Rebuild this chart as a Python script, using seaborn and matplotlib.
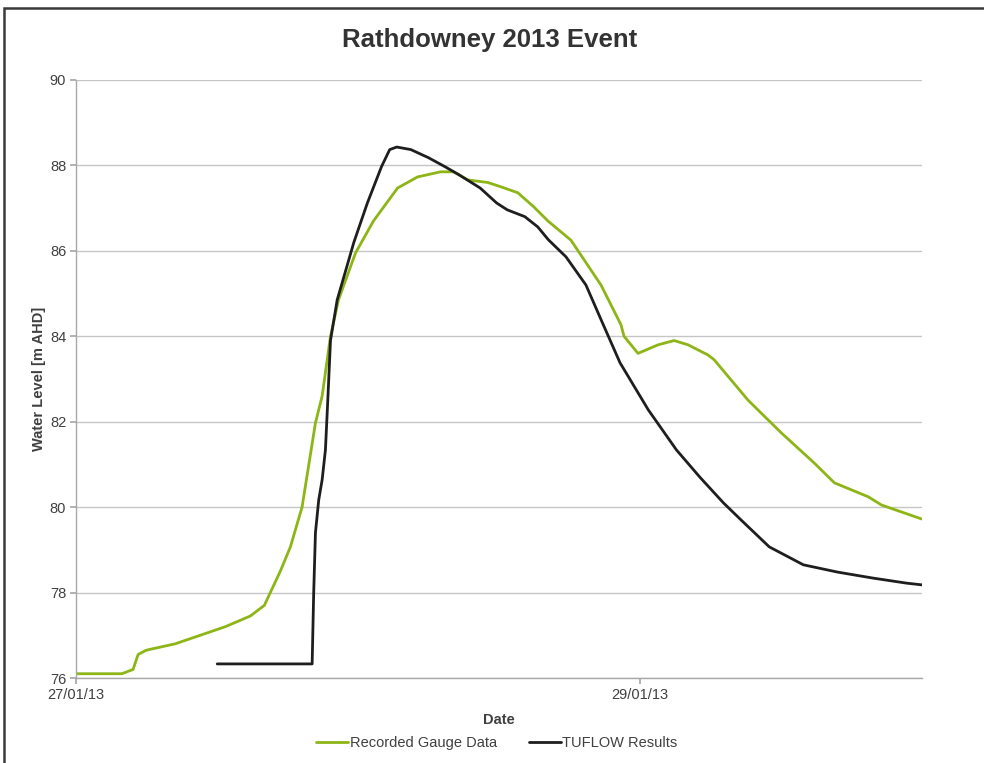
import matplotlib
matplotlib.use("Agg")
import matplotlib.pyplot as plt
import matplotlib.dates as mdates
from matplotlib.patches import Rectangle
import numpy as np
import pandas as pd
import seaborn as sns

sns.set_theme(style="whitegrid")
plt.rcParams["font.family"] = ["Liberation Sans", "DejaVu Sans"]

START = pd.Timestamp("2013-01-27 00:00")

# hours since 27/01/13 00:00 and water level [m AHD]
gauge_hours = [0.0, 3.9, 4.86, 5.29, 5.97, 8.44, 10.57, 12.7, 14.83, 16.03,
               17.39, 18.25, 19.24, 20.38, 20.95, 21.66, 22.34, 23.79, 25.32,
               27.37, 29.07, 31.03, 32.14, 33.34, 35.04, 36.15, 37.6, 38.96,
               40.16, 42.12, 44.68, 46.38, 46.64, 47.83, 49.54, 50.9, 52.09,
               53.8, 54.31, 57.21, 60.02, 62.84, 64.54, 67.44, 68.55, 72.0]
gauge_level = [76.1, 76.1, 76.2, 76.55, 76.65, 76.8, 77.0, 77.2, 77.45, 77.7,
               78.5, 79.07, 80.0, 81.97, 82.6, 84.0, 84.85, 85.95, 86.7,
               87.47, 87.73, 87.85, 87.85, 87.66, 87.6, 87.5, 87.36, 87.03,
               86.7, 86.25, 85.2, 84.27, 84.0, 83.6, 83.8, 83.9, 83.8,
               83.56, 83.45, 82.5, 81.74, 81.03, 80.57, 80.24, 80.05, 79.72]

tuflow_hours = [12.02, 20.1, 20.23, 20.38, 20.66, 20.95, 21.23, 21.43, 21.66,
                22.23, 23.65, 24.8, 26.0, 26.7, 27.3, 28.5, 30.0, 31.4, 32.6,
                34.4, 35.8, 36.7, 38.2, 39.3, 40.2, 41.7, 43.4, 44.7, 46.3,
                48.7, 51.1, 53.1, 55.1, 56.6, 59.0, 61.9, 64.8, 67.8, 70.7, 72.0]
tuflow_level = [76.33, 76.33, 77.98, 79.4, 80.17, 80.64, 81.34, 82.5, 83.9,
                84.85, 86.2, 87.12, 87.97, 88.37, 88.43, 88.37, 88.18, 87.97,
                87.78, 87.47, 87.12, 86.96, 86.8, 86.56, 86.26, 85.86, 85.2,
                84.38, 83.38, 82.28, 81.34, 80.7, 80.1, 79.7, 79.07, 78.65,
                78.48, 78.34, 78.22, 78.18]

y_ticks = [76, 78, 80, 82, 84, 86, 88, 90]
x_tick_dates = ["2013-01-27", "2013-01-29"]

GREEN = "#8DB516"
BLACK = "#1E1E1E"
TEXT = "#404040"

gauge = pd.DataFrame({"Date": START + pd.to_timedelta(gauge_hours, unit="h"),
                      "Level": gauge_level})
tuflow = pd.DataFrame({"Date": START + pd.to_timedelta(tuflow_hours, unit="h"),
                       "Level": tuflow_level})

fig = plt.figure(figsize=(9.84, 7.63), dpi=100)
ax = fig.add_axes([0.0772, 0.1114, 0.8598, 0.7838])

sns.lineplot(data=gauge, x="Date", y="Level", ax=ax, color=GREEN, lw=2.0,
             label="Recorded Gauge Data")
sns.lineplot(data=tuflow, x="Date", y="Level", ax=ax, color=BLACK, lw=2.0,
             label="TUFLOW Results")

ax.set_xlim(START, START + pd.Timedelta(hours=72))
ax.set_ylim(76, 90)
ax.set_yticks(y_ticks)
ax.set_xticks([pd.Timestamp(d) for d in x_tick_dates])
ax.xaxis.set_major_formatter(mdates.DateFormatter("%d/%m/%y"))

ax.grid(axis="y", color="#C6C6C6", lw=1.0)
ax.grid(axis="x", visible=False)
for side in ["top", "right"]:
    ax.spines[side].set_visible(False)
for side in ["left", "bottom"]:
    ax.spines[side].set_color("#A8A8A8")
    ax.spines[side].set_linewidth(1.0)
ax.tick_params(axis="y", left=True, length=4, color="#A8A8A8", labelsize=10.5,
               labelcolor=TEXT, pad=3)
ax.tick_params(axis="x", bottom=True, length=4, color="#A8A8A8", labelsize=10.5,
               labelcolor=TEXT, pad=3)

ax.set_xlabel("Date", fontsize=10.5, fontweight="bold", color=TEXT, labelpad=8)
ax.set_ylabel("Water Level [m AHD]", fontsize=10.5, fontweight="bold",
              color=TEXT, labelpad=3)
fig.text(0.498, 0.947, "Rathdowney 2013 Event", ha="center", va="center",
         fontsize=18.5, fontweight="bold", color="#333333")

ax.get_legend().remove()
fig.legend(*ax.get_legend_handles_labels(), loc="center",
           bbox_to_anchor=(0.505, 0.026), ncol=2, frameon=False,
           fontsize=10.5, handlelength=2.2, handletextpad=0.1,
           columnspacing=2.2, labelcolor=TEXT)

# outer chart border (left and top visible)
fig.patches.append(Rectangle((0.004, -0.05), 1.2, 1.0395,
                             transform=fig.transFigure, fill=False,
                             ec="#3A3A3A", lw=1.8, zorder=10))

fig.savefig("out.png", dpi=100)
